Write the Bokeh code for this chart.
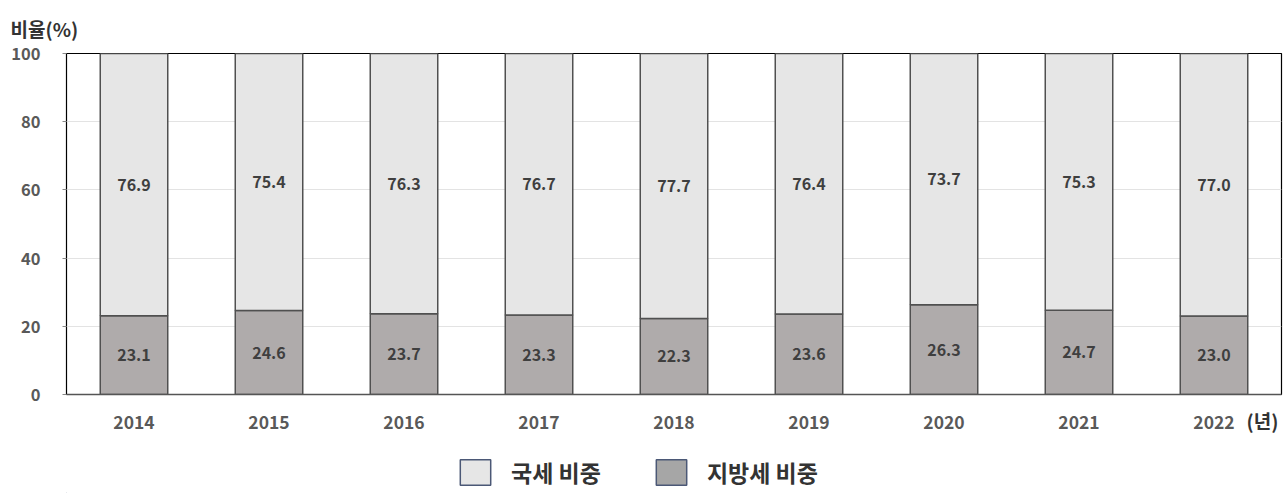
from bokeh.plotting import figure
from bokeh.layouts import column
from bokeh.models import ColumnDataSource, FactorRange, Range1d, Legend, LegendItem, Title
from bokeh.core.properties import value
from bokeh.embed import file_html
from bokeh.resources import INLINE

years = ["2014", "2015", "2016", "2017", "2018", "2019", "2020", "2021", "2022"]
national = [76.9, 75.4, 76.3, 76.7, 77.7, 76.4, 73.7, 75.3, 77.0]
local = [23.1, 24.6, 23.7, 23.3, 22.3, 23.6, 26.3, 24.7, 23.0]
series_names = ["국세 비중", "지방세 비중"]
y_ticks = [0, 20, 40, 60, 80, 100]

FONT = "Noto Sans CJK KR"
LIGHT = "#e6e6e6"
DARK = "#afabab"

src = ColumnDataSource(dict(
    years=years, national=national, local=local,
    local_mid=[v / 2 for v in local],
    nat_mid=[l + n / 2 for l, n in zip(local, national)],
    local_lab=[f"{v:.1f}" for v in local],
    nat_lab=[f"{v:.1f}" for v in national],
))

p = figure(width=1283, height=440, output_backend="svg", toolbar_location=None,
           x_range=FactorRange(*years, range_padding=0), y_range=Range1d(0, 100),
           min_border_left=66, min_border_top=53, min_border_right=2, min_border_bottom=46)

p.outline_line_color = "black"
p.outline_line_width = 1.2
p.xgrid.grid_line_color = None
p.ygrid.grid_line_color = "#e3e3e3"
p.ygrid.grid_line_width = 1

p.vbar_stack(["local", "national"], x="years", width=0.5, source=src,
             fill_color=[DARK, LIGHT], line_color="#505050", line_width=1.5)

for ycol, tcol in (("local_mid", "local_lab"), ("nat_mid", "nat_lab")):
    p.text(x="years", y=ycol, text=tcol, source=src, text_align="center",
           text_baseline="middle", text_font=value(FONT), text_font_style="bold",
           text_font_size="16px", text_color="#3f3f3f")

p.yaxis.ticker = y_ticks
p.yaxis.axis_line_color = None
p.yaxis.major_tick_out = 4
p.yaxis.major_tick_in = 0
p.yaxis.major_tick_line_color = "#888888"
p.yaxis.minor_tick_line_color = None
p.yaxis.major_label_standoff = 22
p.yaxis.major_label_text_font = FONT
p.yaxis.major_label_text_font_style = "bold"
p.yaxis.major_label_text_font_size = "16.5px"
p.yaxis.major_label_text_color = "#595959"

xa = p.xaxis[0]
xa.axis_line_color = "#555555"
xa.axis_line_width = 1.5
xa.major_tick_line_color = None
xa.major_label_standoff = 15
xa.major_label_text_font = FONT
xa.major_label_text_font_style = "bold"
xa.major_label_text_font_size = "17.5px"
xa.major_label_text_color = "#595959"

year_unit = "(년)"
# the end-aligned axis label is centred on the frame's right edge; pad it so it sits inside
xa.axis_label = year_unit + "\u3000\u3000"
xa.axis_label_align = "end"
xa.axis_label_standoff = -25
xa.axis_label_text_font = FONT
xa.axis_label_text_font_style = "bold"
xa.axis_label_text_font_size = "19px"
xa.axis_label_text_color = "#333333"

p.add_layout(Title(text="비율(%)", align="left", offset=-56, standoff=23,
                   text_font=FONT, text_font_style="bold", text_font_size="19px",
                   text_color="#333333"), "above")

# legend strip
lg = figure(width=1283, height=53, output_backend="svg", toolbar_location=None,
            x_range=Range1d(0, 1), y_range=Range1d(0, 1),
            min_border_left=0, min_border_right=0, min_border_top=0, min_border_bottom=0)
lg.axis.visible = False
lg.grid.visible = False
lg.outline_line_color = None
r_nat = lg.vbar(x=[-1], top=[0], width=0.0, fill_color=LIGHT, line_color="#4b5876", line_width=1.5)
r_loc = lg.vbar(x=[-1], top=[0], width=0.0, fill_color="#a6a6a6", line_color="#4b5876", line_width=1.5)
legend = Legend(items=[LegendItem(label=series_names[0], renderers=[r_nat]),
                       LegendItem(label=series_names[1], renderers=[r_loc])],
                orientation="horizontal", location=(390, 4),
                glyph_width=38, glyph_height=32, label_standoff=17, spacing=51,
                label_text_font=FONT, label_text_font_style="bold", label_text_font_size="23px",
                label_text_color="#333333", border_line_color=None, background_fill_alpha=0,
                padding=0, margin=0)
lg.add_layout(legend)

open("out.html", "w").write(file_html(column(p, lg, spacing=0), INLINE))
